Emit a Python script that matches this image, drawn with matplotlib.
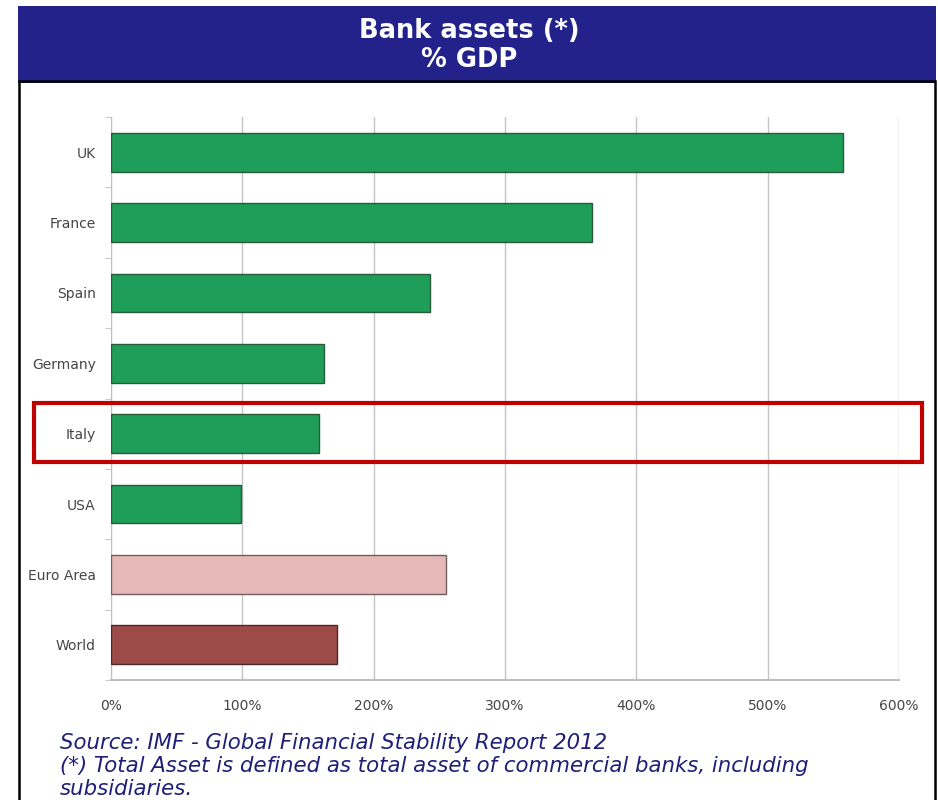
import matplotlib.pyplot as plt
import matplotlib.patches as patches
from matplotlib.ticker import FuncFormatter

countries = ['UK', 'France', 'Spain', 'Germany', 'Italy', 'USA', 'Euro Area', 'World']
assets_pct_gdp = [557, 366, 243, 162, 158, 99, 255, 172]
bar_colors = ['#1e9e58'] * 6 + ['#e6b8b8', '#9c4b48']
edge_colors = ['#2a5a3a'] * 6 + ['#6e6060', '#4a2a28']
x_ticks = [0, 100, 200, 300, 400, 500, 600]

W, H = 938, 800
fig = plt.figure(figsize=(W / 100, H / 100), dpi=100)

def fx(px):
    return px / W

def fy(py):
    return 1 - py / H

# header band and outer frame
fig.patches.append(patches.Rectangle((fx(18), fy(83)), fx(918), 77 / H,
                                     transform=fig.transFigure, facecolor='#22228a',
                                     edgecolor='none', zorder=0))
fig.patches.append(patches.Rectangle((fx(19), fy(812)), fx(916), 731 / H,
                                     transform=fig.transFigure, facecolor='none',
                                     edgecolor='black', lw=1.8, zorder=5))
fig.text(0.5, fy(31), 'Bank assets (*)', color='white', fontsize=18.5,
         fontweight='bold', ha='center', va='center', family='DejaVu Sans')
fig.text(0.5, fy(60), '% GDP', color='white', fontsize=18.5,
         fontweight='bold', ha='center', va='center', family='DejaVu Sans')

ax = fig.add_axes([fx(111), fy(680), fx(899) - fx(111), (680 - 117) / H])
ypos = list(range(len(countries)))
ax.barh(ypos, assets_pct_gdp, height=0.55, color=bar_colors,
        edgecolor=edge_colors, linewidth=1.0, zorder=3)
ax.set_ylim(len(countries) - 0.5, -0.5)
ax.set_xlim(0, 600)
ax.set_yticks(ypos)
ax.set_yticklabels(countries)
ax.set_yticks([i - 0.5 for i in range(len(countries) + 1)], minor=True)
ax.set_xticks(x_ticks)
ax.xaxis.set_major_formatter(FuncFormatter(lambda v, p: f'{v:.0f}%'))
ax.grid(axis='x', color='#c4c4c4', lw=1.0, zorder=0)
for s in ['top', 'right']:
    ax.spines[s].set_visible(False)
ax.spines['left'].set_color('#bfbfbf')
ax.spines['bottom'].set_color('#bfbfbf')
ax.spines['bottom'].set_linewidth(1.5)
ax.tick_params(axis='y', which='major', length=0, pad=11)
ax.tick_params(axis='y', which='minor', length=4, color='#bfbfbf')
ax.tick_params(axis='x', length=0, pad=14)
for lbl in ax.get_xticklabels() + ax.get_yticklabels():
    lbl.set_fontsize(10)
    lbl.set_color('#454545')

# highlight box around Italy
fig.patches.append(patches.Rectangle((fx(34), fy(462)), fx(888), 59 / H,
                                     transform=fig.transFigure, facecolor='none',
                                     edgecolor='#c00000', lw=3, zorder=6))

notes = ['Source: IMF - Global Financial Stability Report 2012',
         '(*) Total Asset is defined as total asset of commercial banks, including',
         'subsidiaries.']
for i, line in enumerate(notes):
    fig.text(fx(60), fy(743 + 23 * i), line, color='#1f1f78', fontsize=15.3,
             style='italic', ha='left', va='center', family='DejaVu Sans')

fig.savefig('out.png', dpi=100)
